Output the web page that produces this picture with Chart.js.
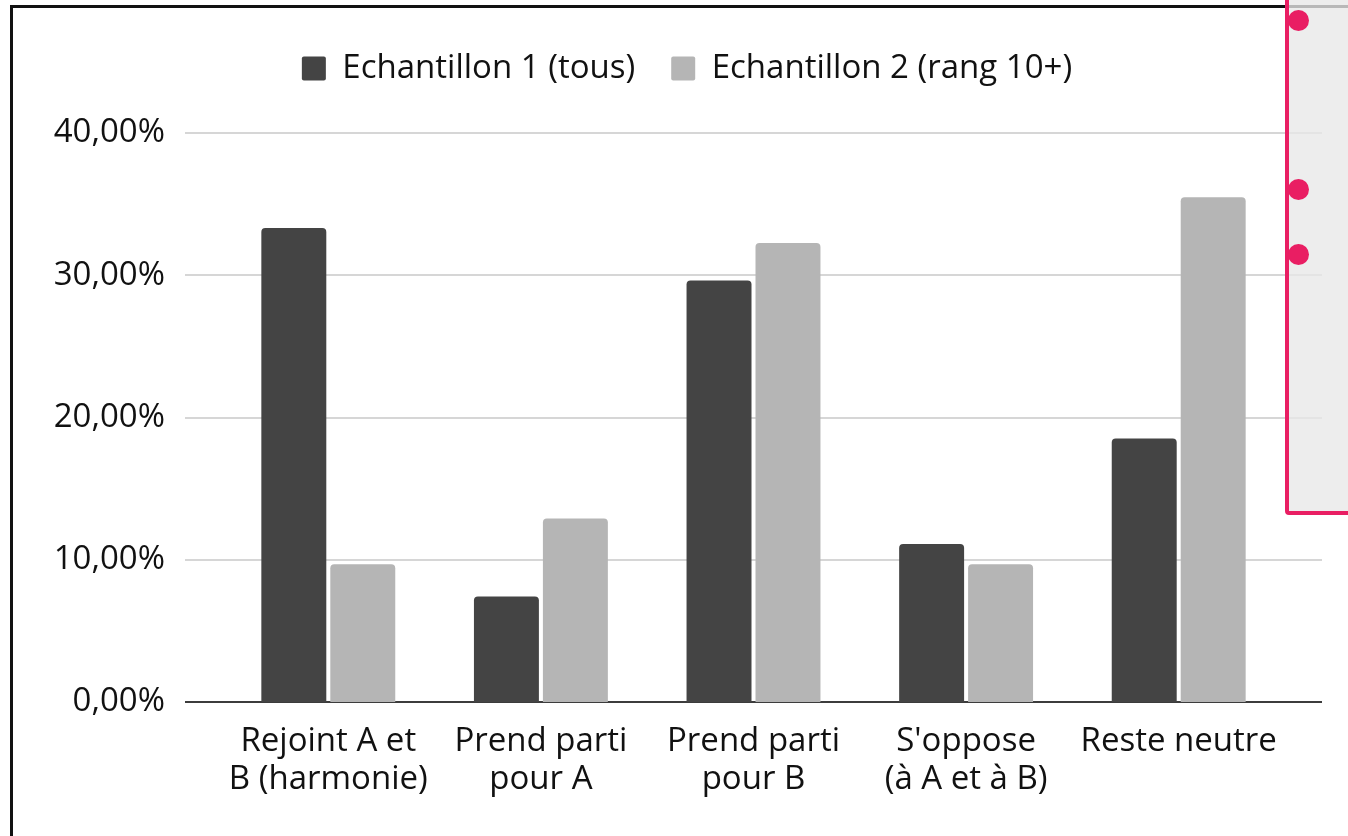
<!DOCTYPE html>
<html lang="fr">
<head>
<meta charset="utf-8">
<title>Echantillons</title>
<script src="https://cdn.jsdelivr.net/npm/chart.js@4"></script>
<style>
  html, body { margin: 0; padding: 0; background: #fff; overflow: hidden; }
  body { width: 1348px; height: 836px; position: relative; font-family: "Open Sans", sans-serif; }
  #wrap { position: absolute; left: 0; top: 0; width: 1348px; height: 836px; }
  .frame { position: absolute; left: 10px; top: 5px; width: 1400px; height: 900px; border: 3px solid #111; pointer-events: none; }
  .note { position: absolute; left: 1285px; top: -20px; width: 100px; height: 527px; border: 4px solid #e91e63; border-radius: 4px; background: rgba(232, 232, 232, 0.78); }
  .dot { position: absolute; left: 1288px; width: 21px; height: 21px; border-radius: 50%; background: #e91e63; }
</style>
</head>
<body>
<div id="wrap"><canvas id="chart" width="1348" height="836"></canvas></div>
<div class="frame"></div>
<div class="note"></div>
<div class="dot" style="top: 10px"></div>
<div class="dot" style="top: 179px"></div>
<div class="dot" style="top: 244px"></div>
<script>
var categories = [
  ["Rejoint A et", "B (harmonie)"],
  ["Prend parti", "pour A"],
  ["Prend parti", "pour B"],
  ["S'oppose", "(à A et à B)"],
  "Reste neutre"
];
var seriesNames = ["Echantillon 1 (tous)", "Echantillon 2 (rang 10+)"];
var sample1 = [33.33, 7.41, 29.63, 11.11, 18.52];
var sample2 = [9.68, 12.90, 32.26, 9.68, 35.48];
var yTicks = [0, 10, 20, 30, 40];

var textColor = "#111111";
var font = { family: "'Open Sans', sans-serif", size: 33, lineHeight: 1.15 };

// horizontal grid lines run a bit past the bar area, like the original sheet
var extendedGrid = {
  id: "extendedGrid",
  beforeDatasetsDraw: function (chart) {
    var ctx = chart.ctx, area = chart.chartArea, y = chart.scales.y;
    ctx.save();
    yTicks.forEach(function (v) {
      var py = Math.round(y.getPixelForValue(v));
      ctx.beginPath();
      ctx.lineWidth = 2;
      ctx.strokeStyle = v === 0 ? "#3c3c3c" : "#d6d6d6";
      ctx.moveTo(area.left - 37, py);
      ctx.lineTo(area.right + 37, py);
      ctx.stroke();
    });
    ctx.restore();
  }
};

// more room under the legend, and legend centred on the whole frame
var legendSpacing = {
  id: "legendSpacing",
  beforeInit: function (chart) {
    var fit = chart.legend.fit;
    chart.legend.fit = function () {
      fit.bind(chart.legend)();
      this.height += 38;
    };
  },
  afterLayout: function (chart) {
    chart.legend.left += 89;
  }
};

function formatPercent(value) {
  return Number(value).toFixed(2).replace(".", ",") + "%";
}

document.addEventListener("DOMContentLoaded", function () {
  new Chart(document.getElementById("chart"), {
    type: "bar",
    data: {
      labels: categories,
      datasets: [
        { label: seriesNames[0], data: sample1, backgroundColor: "#444444", borderRadius: 4 },
        { label: seriesNames[1], data: sample2, backgroundColor: "#b5b5b5", borderRadius: 4 }
      ]
    },
    options: {
      responsive: false,
      animation: false,
      categoryPercentage: 0.6487,
      barPercentage: 0.942,
      layout: { padding: { left: 0, right: 63, top: 16, bottom: 0 } },
      plugins: {
        legend: {
          position: "top",
          labels: {
            color: textColor,
            font: font,
            boxWidth: 24,
            boxHeight: 24,
            useBorderRadius: true,
            borderRadius: 2,
            padding: 36
          }
        },
        tooltip: { enabled: false }
      },
      scales: {
        x: {
          grid: { display: false, drawTicks: false },
          border: { display: false },
          ticks: { color: textColor, font: font, padding: 21, maxRotation: 0, autoSkip: false },
          afterFit: function (scale) { scale.height = 134; }
        },
        y: {
          min: 0,
          max: 40,
          grid: { display: false, drawTicks: false },
          border: { display: false },
          ticks: {
            stepSize: 10,
            color: textColor,
            font: font,
            padding: 57,
            callback: function (value) { return formatPercent(value); }
          },
          afterFit: function (scale) { scale.width = 222; }
        }
      }
    },
    plugins: [extendedGrid, legendSpacing]
  });
});
</script>
</body>
</html>
